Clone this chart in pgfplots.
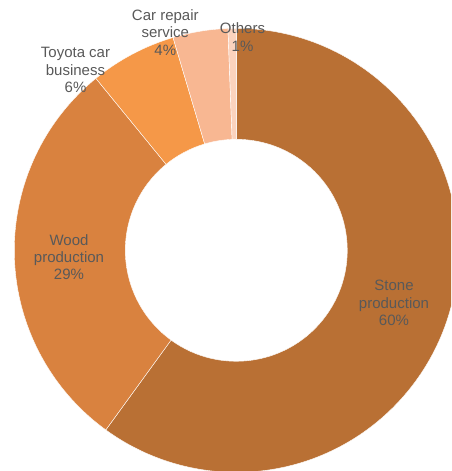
\documentclass[border=0pt]{standalone}
\usepackage{pgfplots}
\usepackage{pgfplotstable}
\pgfplotsset{compat=1.18}
\usepackage{fontspec}
\setmainfont{Liberation Sans}
\definecolor{cStone}{HTML}{B97034}
\definecolor{cWood}{HTML}{D9823F}
\definecolor{cToyota}{HTML}{F59848}
\definecolor{cRepair}{HTML}{F8B792}
\definecolor{cOthers}{HTML}{FBD3BE}
\definecolor{txt}{HTML}{595959}
\pgfplotstableread[col sep=comma]{
name,value,color
Stone,60.0,cStone
Wood,29.1,cWood
Toyota,6.3,cToyota
Repair,4.0,cRepair
Others,0.6,cOthers
}\slices
\begin{document}
\begin{tikzpicture}
\begin{axis}[x=1pt,y=1pt,xmin=0,xmax=451,ymin=0,ymax=471,
  hide axis,clip=true,scale only axis]
\def\cx{236.3}
\def\cy{220.7}
\def\Ro{222}
\def\Ri{111}
\gdef\cum{0}
\pgfplotsinvokeforeach{0,...,4}{
  \pgfplotstablegetelem{#1}{value}\of\slices \let\val\pgfplotsretval
  \pgfplotstablegetelem{#1}{color}\of\slices \let\col\pgfplotsretval
  \pgfmathsetmacro{\aone}{90-3.6*\cum}
  \pgfmathsetmacro{\atwo}{90-3.6*(\cum+\val)}
  \pgfmathsetmacro{\oxa}{\cx+\Ro*cos(\aone)}
  \pgfmathsetmacro{\oya}{\cy+\Ro*sin(\aone)}
  \pgfmathsetmacro{\ixb}{\cx+\Ri*cos(\atwo)}
  \pgfmathsetmacro{\iyb}{\cy+\Ri*sin(\atwo)}
  \pgfmathsetmacro{\newcum}{\cum+\val}
  \xdef\cum{\newcum}
  \edef\temp{\noexpand\filldraw[fill=\col,draw=white,line width=0.4pt]
    (axis cs:\oxa,\oya) arc[start angle=\aone,end angle=\atwo,radius=\Ro pt]
    -- (axis cs:\ixb,\iyb) arc[start angle=\atwo,end angle=\aone,radius=\Ri pt] -- cycle;}
  \temp
}
\begin{scope}[every node/.style={align=center,text=txt,inner sep=0pt,
  font=\fontsize{15}{17.3}\selectfont}]
\node at (axis cs:394,168) {Stone\\production\\60\%};
\node at (axis cs:69,214) {Wood\\production\\29\%};
\node at (axis cs:75.5,401) {Toyota car\\business\\6\%};
\node at (axis cs:165.3,438.5) {Car repair\\service\\4\%};
\node at (axis cs:242.5,434) {Others\\1\%};
\end{scope}
\end{axis}
\pgfresetboundingbox
\useasboundingbox (current axis.south west) rectangle (current axis.north east);
\end{tikzpicture}
\end{document}
